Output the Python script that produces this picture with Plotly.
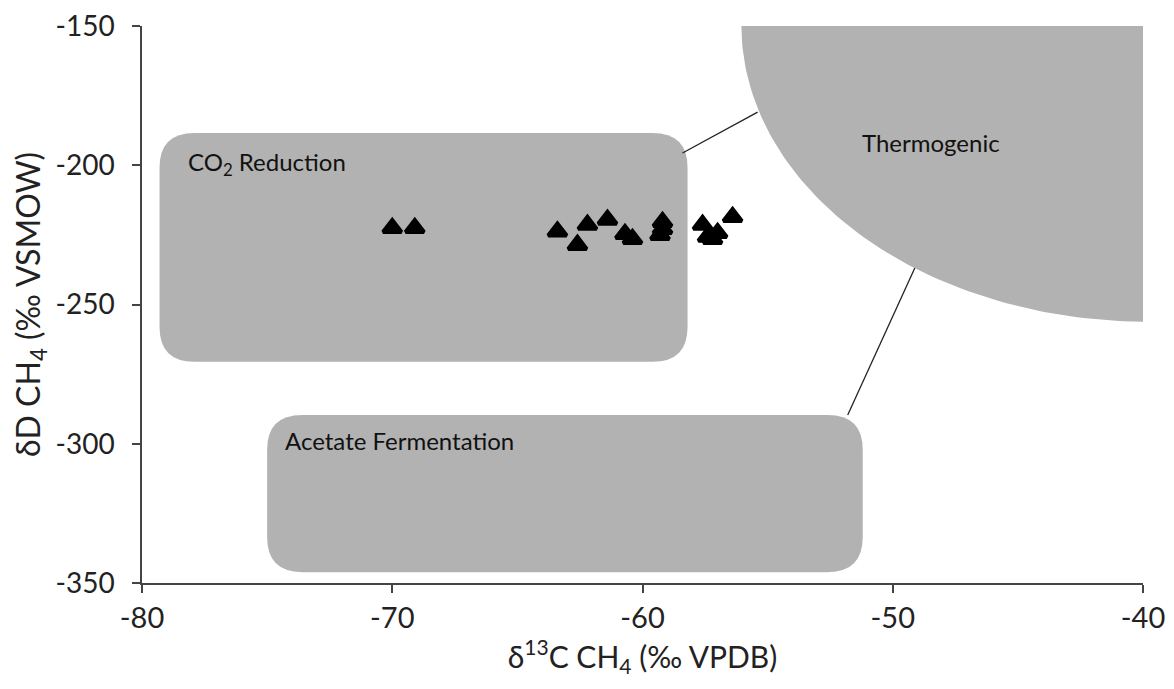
import numpy as np
import plotly.graph_objects as go

# ---- data ----
d13c = [-70.0, -69.1, -63.4, -62.6, -62.2, -61.4, -60.7, -60.4, -59.2, -59.2, -59.3,
        -57.6, -57.4, -57.2, -57.0, -56.4]
dD = [-222.5, -222.5, -223.8, -228.6, -221.4, -219.6, -224.7, -226.5, -220.4, -222.9,
      -225.0, -221.4, -225.7, -226.5, -224.3, -218.6]

x_ticks = [-80, -70, -60, -50, -40]
y_ticks = [-350, -300, -250, -200, -150]

# field boundaries (x0, x1, y0, y1) in data units
co2_box = [-79.3, -58.2, -270.6, -188.4]
acetate_box = [-75.0, -51.2, -346.1, -289.7]
# thermogenic: quarter ellipse centred at top-right corner
thermo_center = [-39.8, -149.6]
thermo_radii = [16.25, 106.6]
# connector lines
conn1 = [[-58.4, -55.4], [-195.6, -180.9]]
conn2 = [[-49.1, -51.8], [-236.5, -289.7]]

region_labels = ["CO<sub>2</sub> Reduction", "Acetate Fermentation", "Thermogenic"]
label_pos = [[-78.25, -199.2], [-74.35, -298.7], [-51.3, -191.7]]

FILL = "#b2b2b2"
FONT = "Lato, 'Open Sans', Arial, sans-serif"


def rounded_path(b, rx, ry):
    x0, x1, y0, y1 = b
    return (f"M {x0+rx},{y1} L {x1-rx},{y1} Q {x1},{y1} {x1},{y1-ry} "
            f"L {x1},{y0+ry} Q {x1},{y0} {x1-rx},{y0} "
            f"L {x0+rx},{y0} Q {x0},{y0} {x0},{y0+ry} "
            f"L {x0},{y1-ry} Q {x0},{y1} {x0+rx},{y1} Z")


fig = go.Figure()

# thermogenic quarter ellipse as filled trace
ang = np.linspace(0, np.pi / 2, 80)
ex = thermo_center[0] - thermo_radii[0] * np.cos(ang)
ey = thermo_center[1] - thermo_radii[1] * np.sin(ang)
ex = np.concatenate([ex, [thermo_center[0]]])
ey = np.concatenate([ey, [thermo_center[1]]])
fig.add_trace(go.Scatter(x=ex, y=ey, fill="toself", fillcolor=FILL, mode="lines",
                         line=dict(width=0, color=FILL), hoverinfo="skip",
                         showlegend=False, cliponaxis=False))

shapes = []
for b in (co2_box, acetate_box):
    shapes.append(dict(type="path", xref="x", yref="y",
                       path=rounded_path(b, 1.4, 12.5),
                       fillcolor=FILL, line=dict(width=0), layer="below"))
for c in (conn1, conn2):
    shapes.append(dict(type="line", xref="x", yref="y",
                       x0=c[0][0], x1=c[0][1], y0=c[1][0], y1=c[1][1],
                       line=dict(color="#222222", width=1.3), layer="below"))

fig.add_trace(go.Scatter(
    x=d13c, y=dD, mode="markers",
    marker=dict(symbol="triangle-up", size=16, color="black",
                line=dict(color="black", width=4)),
    showlegend=False))

annotations = []
for txt, (ax, ay) in zip(region_labels, label_pos):
    annotations.append(dict(x=ax, y=ay, xref="x", yref="y", text=txt,
                            showarrow=False, xanchor="left", yanchor="middle",
                            font=dict(family=FONT, size=24, color="#111111")))

fig.update_layout(
    width=1166, height=681,
    margin=dict(l=134, r=31, t=18, b=106),
    paper_bgcolor="white", plot_bgcolor="white",
    shapes=shapes, annotations=annotations,
    font=dict(family=FONT, size=20, color="#222222"),
)
fig.update_xaxes(range=[-80, -40], tickvals=x_ticks, ticktext=[str(v) for v in x_ticks],
                 showgrid=False, zeroline=False, showline=True, linecolor="#444444",
                 linewidth=1.5, ticks="outside", ticklen=8, tickcolor="#444444",
                 tickwidth=1.5, tickfont=dict(size=29), ticklabelstandoff=0,
                 ticklabeloverflow="allow", automargin=False,
                 title=dict(text="δ<sup>13</sup>C CH<sub>4</sub> (‰ VPDB)",
                            font=dict(size=30), standoff=14))
fig.update_yaxes(range=[-350, -150], tickvals=y_ticks, ticktext=[str(v) for v in y_ticks],
                 showgrid=False, zeroline=False, showline=True, linecolor="#444444",
                 linewidth=1.5, ticks="outside", ticklen=8, tickcolor="#444444",
                 tickwidth=1.5, tickfont=dict(size=28), ticklabelstandoff=12,
                 ticklabeloverflow="allow", automargin=False,
                 title=dict(text="δD CH<sub>4</sub> (‰ VSMOW)",
                            font=dict(size=32), standoff=10))

fig.write_html("out.html")
